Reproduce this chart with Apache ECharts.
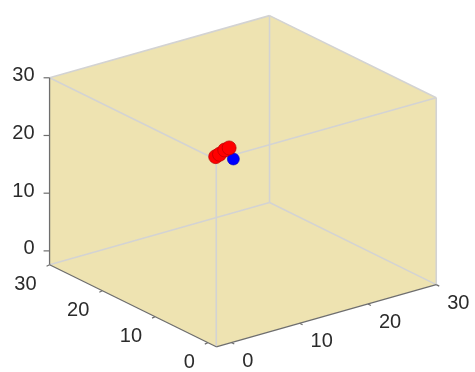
<!DOCTYPE html>
<html>
<head>
<meta charset="utf-8">
<script src="https://cdn.jsdelivr.net/npm/echarts@6/dist/echarts.min.js"></script>
<style>
  html, body { margin: 0; padding: 0; background: #fff; }
  #chart { width: 475px; height: 372px; }
</style>
</head>
<body>
<div id="chart"></div>
<script>
  // axis limits (x, y, z) and tick values
  const xRange = [-2.2, 30];
  const yRange = [-1.6, 30];
  const zRange = [-2.4, 30];
  const xTicks = [0, 10, 20, 30];
  const yTicks = [0, 10, 20, 30];
  const zTicks = [0, 10, 20, 30];

  // scatter points
  const redX = [14.7, 15.5, 16.8, 17.6];
  const redY = [20.4, 20.7, 21.4, 21.6];
  const redZ = [15, 15, 15, 15];
  const blueX = [15.9];
  const blueY = [18.6];
  const blueZ = [15];

  // view (orthographic, azimuth / elevation in degrees)
  const AZ = 37.15 * Math.PI / 180;
  const EL = 21.9 * Math.PI / 180;
  const Z_ASPECT = 0.73;
  const SCALE = 276;
  const CENTER = [242.9, 181.2];
  const W = 475, H = 372;

  function project (x, y, z) {
    const nx = (x - xRange[0]) / (xRange[1] - xRange[0]) - 0.5;
    const ny = (y - yRange[0]) / (yRange[1] - yRange[0]) - 0.5;
    const nz = (z - zRange[0]) / (zRange[1] - zRange[0]) - 0.5;
    const u = SCALE * (Math.cos(AZ) * nx - Math.sin(AZ) * ny);
    const v = SCALE * (Math.sin(AZ) * Math.sin(EL) * nx + Math.cos(AZ) * Math.sin(EL) * ny + Math.cos(EL) * Z_ASPECT * nz);
    return [u, v];
  }
  function corner (i, j, k) {
    return project(xRange[i], yRange[j], zRange[k]);
  }
  function edge (a, b) {
    return corner(a[0], a[1], a[2]).concat(corner(b[0], b[1], b[2]));
  }

  const boxEdges = [
    edge([0,1,1],[1,1,1]), edge([1,1,1],[1,0,1]), edge([1,0,1],[0,0,1]), edge([0,0,1],[0,1,1]),
    edge([1,1,0],[1,1,1]), edge([0,0,0],[0,0,1]), edge([1,0,0],[1,0,1]),
    edge([0,1,0],[1,1,0]), edge([1,1,0],[1,0,0])
  ];
  const axisEdges = [
    edge([0,0,0],[1,0,0]), edge([0,0,0],[0,1,0]), edge([0,1,0],[0,1,1])
  ];
  const silhouette = [
    corner(0,1,1), corner(1,1,1), corner(1,0,1), corner(1,0,0), corner(0,0,0), corner(0,1,0)
  ];

  // tick positions + label specs: [u, v, text, tickDx, tickDy, labelDx, labelDy, align]
  const labelData = [];
  xTicks.forEach(t => {
    const p = project(t, yRange[0], zRange[0]);
    labelData.push([p[0], p[1], String(t), 3, 1.5, 11, 18.5, 'left']);
  });
  yTicks.forEach(t => {
    const p = project(xRange[0], t, zRange[0]);
    labelData.push([p[0], p[1], String(t), -3, 1.5, -13, 19.5, 'right']);
  });
  zTicks.forEach(t => {
    const p = project(xRange[0], yRange[1], t);
    labelData.push([p[0], p[1], String(t), -6, 0, -15, -2, 'right']);
  });

  const lineRender = (color, width) => (params, api) => {
    const a = api.coord([api.value(0), api.value(1)]);
    const b = api.coord([api.value(2), api.value(3)]);
    return {
      type: 'line',
      shape: { x1: a[0], y1: a[1], x2: b[0], y2: b[1] },
      style: { stroke: color, lineWidth: width }
    };
  };

  const chart = echarts.init(document.getElementById('chart'));
  chart.setOption({
    animation: false,
    grid: { left: 0, right: 0, top: 0, bottom: 0 },
    xAxis: { type: 'value', min: -CENTER[0], max: W - CENTER[0], show: false },
    yAxis: { type: 'value', min: -(H - CENTER[1]), max: CENTER[1], show: false },
    series: [
      {
        type: 'custom',
        z: 1,
        silent: true,
        data: [silhouette.flat()],
        renderItem: (params, api) => {
          const pts = [];
          for (let i = 0; i < silhouette.length; i++) {
            pts.push(api.coord([api.value(2 * i), api.value(2 * i + 1)]));
          }
          return { type: 'polygon', shape: { points: pts }, style: { fill: '#eee3b1' } };
        }
      },
      {
        type: 'custom',
        z: 2,
        silent: true,
        data: boxEdges,
        renderItem: lineRender('#d3d3d3', 1.6)
      },
      {
        type: 'scatter',
        z: 3,
        symbolSize: 12,
        data: blueX.map((x, i) => project(x, blueY[i], blueZ[i])),
        itemStyle: { color: '#0000ff', borderColor: '#0000b0', borderWidth: 0.6, opacity: 1 }
      },
      {
        type: 'scatter',
        z: 4,
        symbolSize: 14,
        data: redX.map((x, i) => project(x, redY[i], redZ[i])),
        itemStyle: { color: '#ff0000', borderColor: '#b80000', borderWidth: 0.7, opacity: 1 }
      },
      {
        type: 'custom',
        z: 5,
        silent: true,
        data: axisEdges,
        renderItem: lineRender('#6e6e6e', 1.3)
      },
      {
        type: 'custom',
        z: 6,
        silent: true,
        data: labelData,
        renderItem: (params, api) => {
          const d = labelData[params.dataIndex];
          const p = api.coord([d[0], d[1]]);
          return {
            type: 'group',
            children: [
              {
                type: 'line',
                shape: { x1: p[0], y1: p[1], x2: p[0] + d[3], y2: p[1] + d[4] },
                style: { stroke: '#6e6e6e', lineWidth: 1.2 }
              },
              {
                type: 'text',
                x: p[0] + d[5],
                y: p[1] + d[6],
                style: {
                  text: d[2],
                  align: d[7],
                  verticalAlign: 'middle',
                  fontFamily: 'Liberation Sans, Arial, sans-serif',
                  fontSize: 20,
                  fill: '#2b2b2b'
                }
              }
            ]
          };
        }
      }
    ]
  });
</script>
</body>
</html>
